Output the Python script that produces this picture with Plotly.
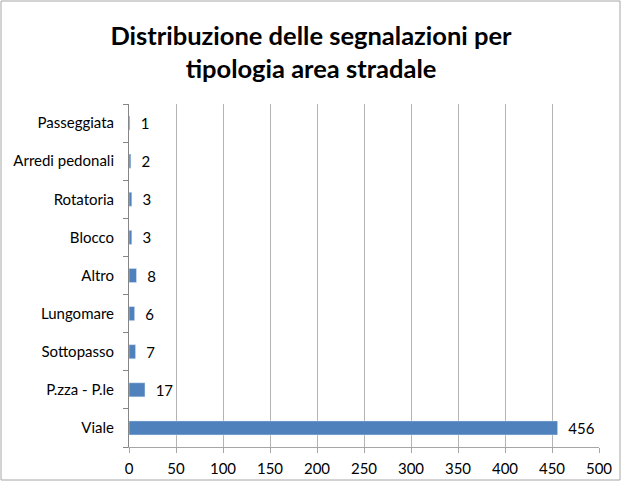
import plotly.graph_objects as go

categories = ["Viale", "P.zza - P.le", "Sottopasso", "Lungomare", "Altro",
              "Blocco", "Rotatoria", "Arredi pedonali", "Passeggiata"]
values = [456, 17, 7, 6, 8, 3, 3, 2, 1]
x_ticks = [0, 50, 100, 150, 200, 250, 300, 350, 400, 450, 500]

W, H = 622, 482
L, R, T, B = 129, 23, 104, 35
pw, ph = W - L - R, H - T - B

fig = go.Figure(
    go.Bar(
        y=categories,
        x=values,
        orientation="h",
        marker={"color": "#4F81BD"},
        texttemplate="\u00a0\u00a0%{x}",
        textposition="outside",
        constraintext="none",
        textfont={"size": 15, "color": "#000000"},
        cliponaxis=False,
    )
)

fig.update_layout(
    width=W,
    height=H,
    margin={"l": L, "r": R, "t": T, "b": B, "autoexpand": False},
    paper_bgcolor="white",
    plot_bgcolor="white",
    font={"family": "Lato, Carlito, sans-serif", "size": 15, "color": "#000000"},
    title={
        "text": "<b>Distribuzione delle segnalazioni per<br>tipologia area stradale</b>",
        "x": 0.5,
        "xanchor": "center",
        "y": 0.907,
        "yanchor": "top",
        "font": {"size": 25.5},
    },
    bargap=0.63,
    showlegend=False,
)

fig.update_xaxes(
    range=[0, 500],
    tickvals=x_ticks,
    automargin=False,
    showgrid=True,
    gridcolor="#B4B4B4",
    gridwidth=1.3,
    showline=True,
    linecolor="#A6A6A6",
    ticks="outside",
    ticklen=5,
    tickcolor="#A6A6A6",
    ticklabelstandoff=3,
    zeroline=False,
)
fig.update_yaxes(
    automargin=False,
    showgrid=False,
    showline=True,
    linecolor="#868686",
    ticks="outside",
    tickson="boundaries",
    ticklen=5,
    tickcolor="#868686",
    ticklabelstandoff=11,
)

# outer chart border
fig.add_shape(
    type="rect",
    xref="paper",
    yref="paper",
    x0=-(L - 1) / pw,
    x1=1 + (R - 2) / pw,
    y0=-(B - 2) / ph,
    y1=1 + (T - 1) / ph,
    line={"color": "#A6A6A6", "width": 1},
    layer="below",
)

fig.write_html(
    "out.html",
    config={"displayModeBar": False},
    post_script="document.body.style.margin='0';",
)
